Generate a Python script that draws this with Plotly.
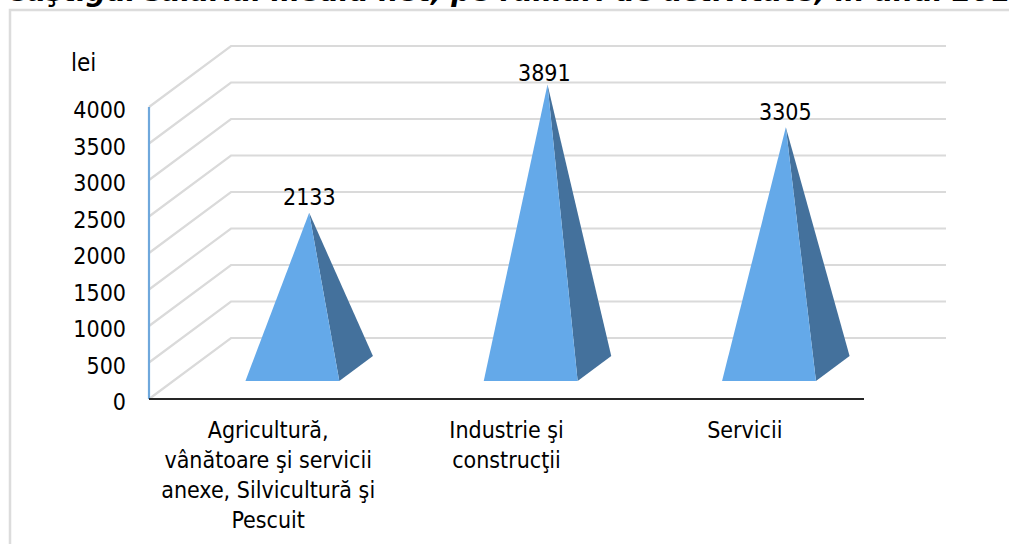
import plotly.graph_objects as go

categories = ["Agricultură,<br>vânătoare şi servicii<br>anexe, Silvicultură şi<br>Pescuit",
              "Industrie şi<br>construcţii", "Servicii"]
values = [2133, 3891, 3305]
y_ticks = [0, 500, 1000, 1500, 2000, 2500, 3000, 3500, 4000]
title = "Câştigul salarial mediu net, pe ramuri de activitate, în anul 2013"
unit = "lei"
label_xshift = [0, -3, 0]
label_yshift = [1, -4, 0]

# pseudo-3D projection: depth 0..1 shifts a point by (DX, DY) in data units
W, H = 1009, 544
X_UNIT, Y_UNIT = 238.33, 0.073  # pixels per data unit
PAD = 4  # room round the drawn area so that its edge lines are not clipped
L, R, T, B = 149 - PAD, 946 + PAD, 46 - PAD, 399 + PAD
DX, DY = 82 / X_UNIT, 61 / Y_UNIT
XMAX, YMAX = len(categories) + DX, 4000 + DY
D_FRONT, D_BACK = 0.295, 0.705
HALF = 0.197
FONT = "DejaVu Sans Condensed"
GRID, FRONT, SIDE, AXIS_Y, AXIS_X = "#DADADA", "#64A9E9", "#44719C", "#6FA8DC", "#262626"


def proj(x, v, d):
    return x + d * DX, v + d * DY


def px(x):
    return (x - L) / (R - L)


def py(y):
    return (B - y) / (B - T)


def line(xs, ys, color, width=2):
    return go.Scatter(x=xs, y=ys, mode="lines", line=dict(color=color, width=width),
                      hoverinfo="skip", showlegend=False)


fig = go.Figure()
for t in y_ticks:
    a, b, c = proj(0, t, 0), proj(0, t, 1), proj(len(categories), t, 1)
    fig.add_trace(line([a[0], b[0], c[0]], [a[1], b[1], c[1]], GRID, 2.2))

fig.add_trace(line([0, 0], [0, 4000], AXIS_Y, 2.2))
fig.add_trace(line([0, len(categories)], [0, 0], AXIS_X, 2.2))

for i, v in enumerate(values):
    cx = i + 0.5
    fl, fr = proj(cx - HALF, 0, D_FRONT), proj(cx + HALF, 0, D_FRONT)
    br = proj(cx + HALF, 0, D_BACK)
    ap = proj(cx, v, 0.5)
    fig.add_trace(go.Scatter(x=[fr[0], br[0], ap[0], fr[0]], y=[fr[1], br[1], ap[1], fr[1]],
                             mode="lines", fill="toself", fillcolor=SIDE, line=dict(width=0),
                             hoverinfo="skip", showlegend=False))
    fig.add_trace(go.Scatter(x=[fl[0], fr[0], ap[0], fl[0]], y=[fl[1], fr[1], ap[1], fl[1]],
                             mode="lines", fill="toself", fillcolor=FRONT, line=dict(width=0),
                             hoverinfo="skip", showlegend=False))
    fig.add_annotation(x=ap[0], y=ap[1], text=str(v), showarrow=False, yanchor="bottom",
                       font=dict(family=FONT, size=23, color="black"),
                       xshift=label_xshift[i], yshift=label_yshift[i])

fig.add_annotation(xref="paper", yref="paper", x=px(83), y=py(63),
                   text=unit, showarrow=False, xanchor="center", yanchor="middle",
                   font=dict(family=FONT, size=24, color="black"))
fig.add_annotation(xref="paper", yref="paper", x=px(5), y=py(10.4),
                   text=f"<b><i>{title}</i></b>", showarrow=False, xanchor="left", yanchor="bottom",
                   font=dict(family="DejaVu Sans", size=28, color="black"))
fig.add_shape(type="rect", xref="paper", yref="paper",
              x0=px(10), x1=px(1100), y0=py(600), y1=py(10),
              line=dict(color="#DCDCDC", width=2.5), layer="below")

fig.update_layout(
    width=W, height=H, autosize=False,
    margin=dict(l=L, r=W - R, t=T, b=H - B, pad=0),
    paper_bgcolor="white", plot_bgcolor="rgba(0,0,0,0)",
    xaxis=dict(range=[-PAD / X_UNIT, XMAX + PAD / X_UNIT],
               tickvals=[i + 0.5 for i in range(len(categories))], ticktext=categories,
               showgrid=False, zeroline=False, showline=False, ticks="", tickangle=0,
               tickfont=dict(family=FONT, size=23, color="black"), ticklabelstandoff=11),
    yaxis=dict(range=[-PAD / Y_UNIT, YMAX + PAD / Y_UNIT], tickvals=y_ticks,
               showgrid=False, zeroline=False, showline=False,
               ticks="", tickfont=dict(family=FONT, size=23, color="black"),
               ticklabelstandoff=18, ticklabelshift=3),
)
fig.write_html("out.html", config={"displayModeBar": False},
               post_script="document.body.style.margin='0';document.body.style.overflow='hidden';")
